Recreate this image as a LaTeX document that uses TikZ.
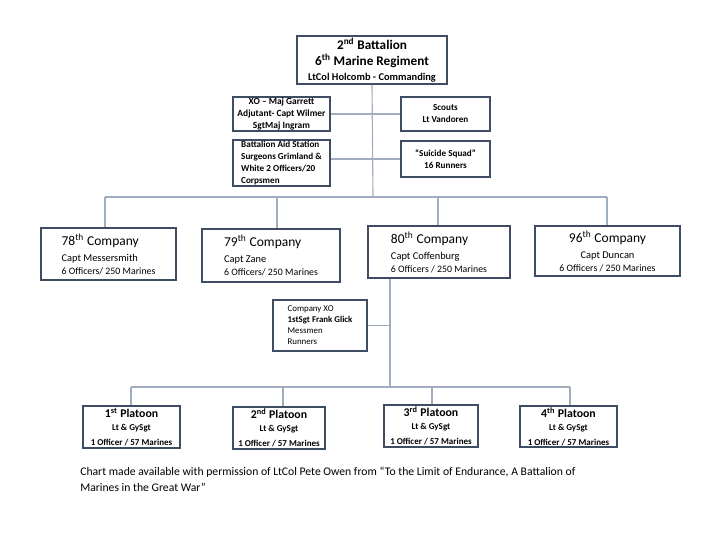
\documentclass[tikz,border=0pt]{standalone}
\usepackage{fontspec}
\setmainfont{Carlito}
\definecolor{boxEdge}{RGB}{62,76,100}
\definecolor{linkGray}{RGB}{160,172,192}

\begin{document}
\begin{tikzpicture}[x=0.025cm, y=-0.025cm,
    box/.style={draw=boxEdge, line width=1.3pt, fill=white, inner sep=0.5pt},
    link/.style={draw=linkGray, line width=0.8pt}]
  \useasboundingbox[fill=white] (0,0) rectangle (720,540);

  % battalion staff
  \node[box, minimum width=3.75cm, minimum height=1.2cm, align=center, font=\bfseries] (bn) at (372,60)
    {{\fontsize{9.4}{11.3}\selectfont 2\textsuperscript{nd} Battalion}\\[-0.5pt]
     {\fontsize{9.4}{11.3}\selectfont 6\textsuperscript{th} Marine Regiment}\\[-1.5pt]
     {\fontsize{7.4}{9}\selectfont LtCol Holcomb - Commanding}};
  \node[box, minimum width=2.425cm, minimum height=0.85cm, align=center, font=\fontsize{6.7}{8.5}\selectfont\bfseries] (xo) at (281.5,114)
    {XO -- Maj Garrett\\Adjutant- Capt Wilmer\\SgtMaj Ingram};
  \node[box, minimum width=2.225cm, minimum height=0.85cm, align=center, font=\fontsize{6.5}{8.5}\selectfont\bfseries] (scouts) at (445.5,114)
    {Scouts\\Lt Vandoren};
  \node[box, minimum width=2.425cm, minimum height=1.15cm, align=left, font=\fontsize{6.5}{8.5}\selectfont\bfseries] (aid) at (281.5,163)
    {Battalion Aid Station\\Surgeons Grimland \&\\White 2 Officers/20\\Corpsmen};
  \node[box, minimum width=2.225cm, minimum height=0.9cm, align=center, font=\fontsize{6.5}{8.5}\selectfont\bfseries] (squad) at (445.5,159)
    {``Suicide Squad''\\16 Runners};

  \draw[link] (bn.south) -- (373,197) coordinate (cbus);
  \draw[link] (xo.east) -- (scouts.west);
  \draw[link] (aid.east |- squad.west) -- (squad.west);

  % companies
  \node[box, minimum width=3.375cm, minimum height=1.3cm, align=left] (c78) at (108.5,254)
    {{\fontsize{9.6}{12}\selectfont 78\textsuperscript{th} Company}\\[-0.5pt]
     {\fontsize{7.4}{10}\selectfont Capt Messersmith}\\[-3pt]
     {\fontsize{7}{9}\selectfont 6 Officers/ 250 Marines}};
  \node[box, minimum width=3.45cm, minimum height=1.325cm, align=left] (c79) at (271,255.5)
    {{\fontsize{9.6}{12}\selectfont 79\textsuperscript{th} Company}\\[-0.5pt]
     {\fontsize{7.4}{10}\selectfont Capt Zane}\\[-3pt]
     {\fontsize{7}{9}\selectfont 6 Officers/ 250 Marines}};
  \node[box, minimum width=3.55cm, minimum height=1.3cm, align=left] (c80) at (439,252)
    {{\fontsize{9.6}{12}\selectfont 80\textsuperscript{th} Company}\\[-0.5pt]
     {\fontsize{7.4}{10}\selectfont Capt Coffenburg}\\[-3pt]
     {\fontsize{7}{9}\selectfont 6 Officers / 250 Marines}};
  \node[box, minimum width=3.625cm, minimum height=1.25cm, align=center] (c96) at (607.5,251)
    {{\fontsize{9.6}{12}\selectfont 96\textsuperscript{th} Company}\\[-0.5pt]
     {\fontsize{7.4}{10}\selectfont Capt Duncan}\\[-3pt]
     {\fontsize{7}{9}\selectfont 6 Officers / 250 Marines}};

  \draw[link] (105,197) coordinate (cleft) -- (607,197) coordinate (cright);
  \draw[link] (cleft) -- (cleft |- c78.north);
  \draw[link] (277,197) -- (277,0 |- c79.north);
  \draw[link] (438,197) -- (438,0 |- c80.north);
  \draw[link] (cright) -- (cright |- c96.north);

  % company headquarters
  \node[box, minimum width=2.35cm, minimum height=1.275cm, align=left, font=\fontsize{6.3}{7.8}\selectfont] (coxo) at (320,325.5)
    {Company XO\\\textbf{1stSgt Frank Glick}\\Messmen\\Runners};
  \coordinate (ptrunk) at (390,387);
  \draw[link] (ptrunk |- c80.south) -- (ptrunk);
  \draw[link] (coxo.east) -- (coxo.east -| ptrunk);

  % platoons
  \node[box, minimum width=2.425cm, minimum height=1.05cm, align=center, font=\bfseries] (p1) at (131.5,427)
    {{\fontsize{8.4}{10}\selectfont 1\textsuperscript{st} Platoon}\\[-2.5pt]
     {\fontsize{6.4}{8}\selectfont Lt \& GySgt}\\[-1.5pt]
     {\fontsize{6.4}{8}\selectfont 1 Officer / 57 Marines}};
  \node[box, minimum width=2.3cm, minimum height=1.05cm, align=center, font=\bfseries] (p2) at (279,428)
    {{\fontsize{8.4}{10}\selectfont 2\textsuperscript{nd} Platoon}\\[-2.5pt]
     {\fontsize{6.4}{8}\selectfont Lt \& GySgt}\\[-1.5pt]
     {\fontsize{6.4}{8}\selectfont 1 Officer / 57 Marines}};
  \node[box, minimum width=2.35cm, minimum height=1.05cm, align=center, font=\bfseries] (p3) at (431,426)
    {{\fontsize{8.4}{10}\selectfont 3\textsuperscript{rd} Platoon}\\[-2.5pt]
     {\fontsize{6.4}{8}\selectfont Lt \& GySgt}\\[-1.5pt]
     {\fontsize{6.4}{8}\selectfont 1 Officer / 57 Marines}};
  \node[box, minimum width=2.425cm, minimum height=1.025cm, align=center, font=\bfseries] (p4) at (568.5,426.5)
    {{\fontsize{8.4}{10}\selectfont 4\textsuperscript{th} Platoon}\\[-2.5pt]
     {\fontsize{6.4}{8}\selectfont Lt \& GySgt}\\[-1.5pt]
     {\fontsize{6.4}{8}\selectfont 1 Officer / 57 Marines}};

  \draw[link] (131,387) coordinate (pleft) -- (570,387) coordinate (pright);
  \draw[link] (pleft) -- (pleft |- p1.north);
  \draw[link] (283,387) -- (283,0 |- p2.north);
  \draw[link] (432,387) -- (432,0 |- p3.north);
  \draw[link] (pright) -- (pright |- p4.north);

  % source note
  \node[anchor=north west, align=left, inner sep=0pt, font=\fontsize{8.3}{11.3}\selectfont] (note) at (80,467)
    {Chart made available with permission of LtCol Pete Owen from ``To the Limit of Endurance, A Battalion of\\Marines in the Great War''};
\end{tikzpicture}
\end{document}
